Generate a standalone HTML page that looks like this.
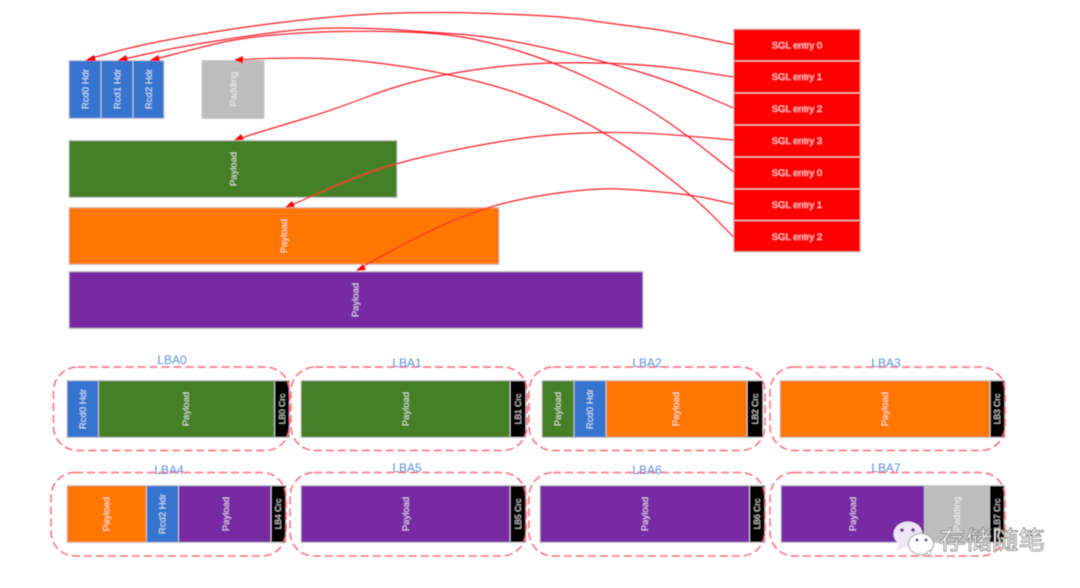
<!DOCTYPE html>
<html>
<head>
<meta charset="utf-8">
<style>
html,body{margin:0;padding:0;background:#fff;width:1080px;height:588px;overflow:hidden}
svg{display:block}
.b{stroke:#c8c8c8;stroke-width:1}
.t{font-family:"Liberation Sans",sans-serif;font-size:9.5px;fill:#fff;fill-opacity:.82;text-anchor:middle}
.n{font-size:8.5px}
.l{font-family:"Liberation Sans",sans-serif;font-size:12px;fill:#5b8fd6;text-anchor:middle}
.d{fill:none;stroke:#ff6b78;stroke-width:1.5;stroke-dasharray:8 4}
.c{fill:none;stroke:#ff1a28;stroke-width:1.2}
.a{fill:#f00;stroke:none}
.w{font-family:"Liberation Sans","Noto Sans CJK SC",sans-serif;font-size:25px;fill:#fff;stroke:#666;stroke-width:.7}
</style>
</head>
<body>
<svg width="1080" height="588" viewBox="0 0 1080 588" xmlns="http://www.w3.org/2000/svg">
<defs><filter id="s" x="-2%" y="-2%" width="104%" height="104%"><feGaussianBlur stdDeviation="0.5"/></filter></defs>
<g filter="url(#s)">
<!-- top headers -->
<rect class="b" x="69" y="60.500" width="32" height="58" fill="#3574cf"/>
<rect class="b" x="101" y="60.500" width="32" height="58" fill="#3574cf"/>
<rect class="b" x="133" y="60.500" width="31" height="58" fill="#3574cf"/>
<rect class="b" x="202" y="60.500" width="62" height="58" fill="#bdbdbd"/>
<rect class="b" x="69" y="140.500" width="328" height="57" fill="#457f25"/>
<rect class="b" x="69" y="207.500" width="430" height="57" fill="#ff7700"/>
<rect class="b" x="69" y="271.500" width="574" height="57" fill="#772ca3"/>

<text class="t" transform="translate(88.500,89) rotate(-90)">Rcd0 Hdr</text>
<text class="t" transform="translate(120.500,89) rotate(-90)">Rcd1 Hdr</text>
<text class="t" transform="translate(152,89) rotate(-90)">Rcd2 Hdr</text>
<text class="t" transform="translate(236.500,89) rotate(-90)">Padding</text>
<text class="t" transform="translate(236.500,169) rotate(-90)">Payload</text>
<text class="t" transform="translate(287,236) rotate(-90)">Payload</text>
<text class="t" transform="translate(358.500,300) rotate(-90)">Payload</text>

<!-- SGL -->
<rect class="b" x="733.500" y="29" width="127" height="32" fill="#f00"/>
<rect class="b" x="733.500" y="61" width="127" height="32" fill="#f00"/>
<rect class="b" x="733.500" y="93" width="127" height="32" fill="#f00"/>
<rect class="b" x="733.500" y="125" width="127" height="32" fill="#f00"/>
<rect class="b" x="733.500" y="157" width="127" height="32" fill="#f00"/>
<rect class="b" x="733.500" y="189" width="127" height="32" fill="#f00"/>
<rect class="b" x="733.500" y="220.500" width="127" height="31.500" fill="#f00"/>
<text class="t" x="797" y="48.500">SGL entry 0</text>
<text class="t" x="797" y="80">SGL entry 1</text>
<text class="t" x="797" y="112">SGL entry 2</text>
<text class="t" x="797" y="144">SGL entry 3</text>
<text class="t" x="797" y="176">SGL entry 0</text>
<text class="t" x="797" y="208">SGL entry 1</text>
<text class="t" x="797" y="240">SGL entry 2</text>

<!-- connectors -->
<path class="c" d="M733.500 44.500L702 38Q670 31 638 27Q607 23 587 20Q567 17 537 15.500Q507 14 473 13Q440 12 400 13Q360 14 316 18.500Q273 23 236 28.500Q200 34 170 39.500Q140 45 114 52L88 59"/>
<path class="c" d="M733.500 77L695 71Q657 65 615 63.500Q573 62 540 63.500Q507 65 473.500 70Q440 75 415 81.500Q390 88 361.500 99Q333 110 303 119Q273 128 255 133.500L238 139"/>
<path class="c" d="M733.500 108L703 95Q673 82 640 72Q607 62 563.500 52Q520 42 496.500 38.500Q473 35 456.500 34Q440 33 406.500 30.500Q373 28 340 28Q307 28 273.500 32.500Q240 37 206.500 42.500Q173 48 146.500 54L120 60"/>
<path class="c" d="M733.500 172L710 153.500Q687 135 663.500 119Q640 103 598.500 83Q557 63 523.500 52.500Q490 42 465 37.500Q440 33 406.500 32Q373 31 340 31.500Q307 32 273.500 35Q240 38 215 44Q190 50 171 55L152 60"/>
<path class="c" d="M733.500 140L687 136Q640 132 606.500 132.500Q573 133 546.500 135.500Q520 138 486.500 144Q453 150 425 156.500Q397 163 375 170.500Q353 178 320 192.500L287 207"/>
<path class="c" d="M733.500 204L713 199.500Q693 195 666.500 192.500Q640 190 620 189Q600 188 570 191.500Q540 195 513.500 201Q487 207 462 217Q437 227 412 240Q387 253 372 261.500L357 270"/>
<path class="c" d="M733.500 237L712 215Q690 193 648.500 162.500Q607 132 565 112.500Q523 93 481.500 82.500Q440 72 406.500 67Q373 62 348 60Q323 58 298 58Q273 58 254.500 59L236 60"/>
<polygon class="a" points="85,61 94,55 96,61"/>
<polygon class="a" points="117,61 126,55 128,61"/>
<polygon class="a" points="149,61 158,55 160,61"/>
<polygon class="a" points="234,60 243,56 243,63.500"/>
<polygon class="a" points="234,140.500 241,134 244,140"/>
<polygon class="a" points="285,207.500 292,201 295,207"/>
<polygon class="a" points="356,271 363,264 366,270"/>

<!-- LBA row 1 -->
<rect class="b" x="67" y="380.500" width="31.500" height="57" fill="#3574cf"/>
<rect class="b" x="98.500" y="380.500" width="176" height="57" fill="#457f25"/>
<rect class="b" x="274.500" y="380.500" width="15" height="57" fill="#000"/>
<rect class="b" x="301" y="380.500" width="209" height="57" fill="#457f25"/>
<rect class="b" x="510" y="380.500" width="16" height="57" fill="#000"/>
<rect class="b" x="542" y="380.500" width="32" height="57" fill="#457f25"/>
<rect class="b" x="574" y="380.500" width="32" height="57" fill="#3574cf"/>
<rect class="b" x="606" y="380.500" width="141" height="57" fill="#ff7700"/>
<rect class="b" x="747" y="380.500" width="16" height="57" fill="#000"/>
<rect class="b" x="780" y="380.500" width="210" height="57" fill="#ff7700"/>
<rect class="b" x="990" y="380.500" width="15" height="57" fill="#000"/>

<text class="t" transform="translate(86,409) rotate(-90)">Rcd0 Hdr</text>
<text class="t" transform="translate(189,409) rotate(-90)">Payload</text>
<text class="t n" transform="translate(285,409) rotate(-90)">LB0 Crc</text>
<text class="t" transform="translate(409,409) rotate(-90)">Payload</text>
<text class="t n" transform="translate(521,409) rotate(-90)">LB1 Crc</text>
<text class="t" transform="translate(561,409) rotate(-90)">Payload</text>
<text class="t" transform="translate(593,409) rotate(-90)">Rcd0 Hdr</text>
<text class="t" transform="translate(679,409) rotate(-90)">Payload</text>
<text class="t n" transform="translate(758,409) rotate(-90)">LB2 Crc</text>
<text class="t" transform="translate(888,409) rotate(-90)">Payload</text>
<text class="t n" transform="translate(1000,409) rotate(-90)">LB3 Crc</text>

<!-- LBA row 2 -->
<rect class="b" x="67" y="485.500" width="79.500" height="57" fill="#ff7700"/>
<rect class="b" x="146.500" y="485.500" width="32" height="57" fill="#3574cf"/>
<rect class="b" x="178.500" y="485.500" width="92.500" height="57" fill="#772ca3"/>
<rect class="b" x="271" y="485.500" width="15" height="57" fill="#000"/>
<rect class="b" x="301" y="485.500" width="209" height="57" fill="#772ca3"/>
<rect class="b" x="510" y="485.500" width="16" height="57" fill="#000"/>
<rect class="b" x="540" y="485.500" width="209.500" height="57" fill="#772ca3"/>
<rect class="b" x="749.500" y="485.500" width="15.500" height="57" fill="#000"/>
<rect class="b" x="781" y="485.500" width="143.500" height="57" fill="#772ca3"/>
<rect class="b" x="924.500" y="485.500" width="65" height="57" fill="#bdbdbd"/>
<rect class="b" x="989.500" y="485.500" width="15" height="57" fill="#000"/>

<text class="t" transform="translate(109.500,514) rotate(-90)">Payload</text>
<text class="t" transform="translate(165.500,514) rotate(-90)">Rcd2 Hdr</text>
<text class="t" transform="translate(229,514) rotate(-90)">Payload</text>
<text class="t n" transform="translate(281,514) rotate(-90)">LB4 Crc</text>
<text class="t" transform="translate(409,514) rotate(-90)">Payload</text>
<text class="t n" transform="translate(521,514) rotate(-90)">LB5 Crc</text>
<text class="t" transform="translate(648,514) rotate(-90)">Payload</text>
<text class="t n" transform="translate(760,514) rotate(-90)">LB6 Crc</text>
<text class="t" transform="translate(856,514) rotate(-90)">Payload</text>
<text class="t" transform="translate(960,514) rotate(-90)">Padding</text>
<text class="t n" transform="translate(1000,514) rotate(-90)">LB7 Crc</text>

<!-- dashed groups -->
<rect class="d" x="53.500" y="367" width="236" height="83.500" rx="24" ry="24"/>
<rect class="d" x="291" y="367" width="236" height="83.500" rx="24" ry="24"/>
<rect class="d" x="529" y="367" width="236" height="83.500" rx="24" ry="24"/>
<rect class="d" x="770" y="367" width="235" height="83.500" rx="24" ry="24"/>
<rect class="d" x="51" y="472.500" width="235" height="83.500" rx="24" ry="24"/>
<rect class="d" x="290" y="472.500" width="236" height="83.500" rx="24" ry="24"/>
<rect class="d" x="529" y="472.500" width="236" height="83.500" rx="24" ry="24"/>
<rect class="d" x="770" y="472.500" width="235" height="83.500" rx="24" ry="24"/>

<text class="l" x="172" y="364">LBA0</text>
<text class="l" x="407" y="367">LBA1</text>
<text class="l" x="647" y="367">LBA2</text>
<text class="l" x="886" y="367">LBA3</text>
<text class="l" x="169" y="474">LBA4</text>
<text class="l" x="407" y="472">LBA5</text>
<text class="l" x="647" y="474">LBA6</text>
<text class="l" x="886" y="472">LBA7</text>

<!-- watermark -->
<ellipse cx="908" cy="534" rx="14.500" ry="12.500" fill="#eee6f4"/>
<polygon points="899,543 897,551 907,546" fill="#eee6f4"/>
<circle cx="902" cy="530" r="1.800" fill="#6b2c96"/>
<circle cx="913" cy="530" r="1.800" fill="#6b2c96"/>
<ellipse cx="921" cy="544" rx="12.500" ry="10.500" fill="#fff" stroke="#888" stroke-width=".8"/>
<polygon points="926,553 932,557 930,550" fill="#fff" stroke="#888" stroke-width=".6"/>
<circle cx="917" cy="540" r="1.500" fill="#6b2c96"/>
<circle cx="926" cy="540" r="1.500" fill="#6b2c96"/>
<text class="w" x="939" y="549" textLength="106" lengthAdjust="spacingAndGlyphs">存储随笔</text>
</g>
</svg>
</body>
</html>
